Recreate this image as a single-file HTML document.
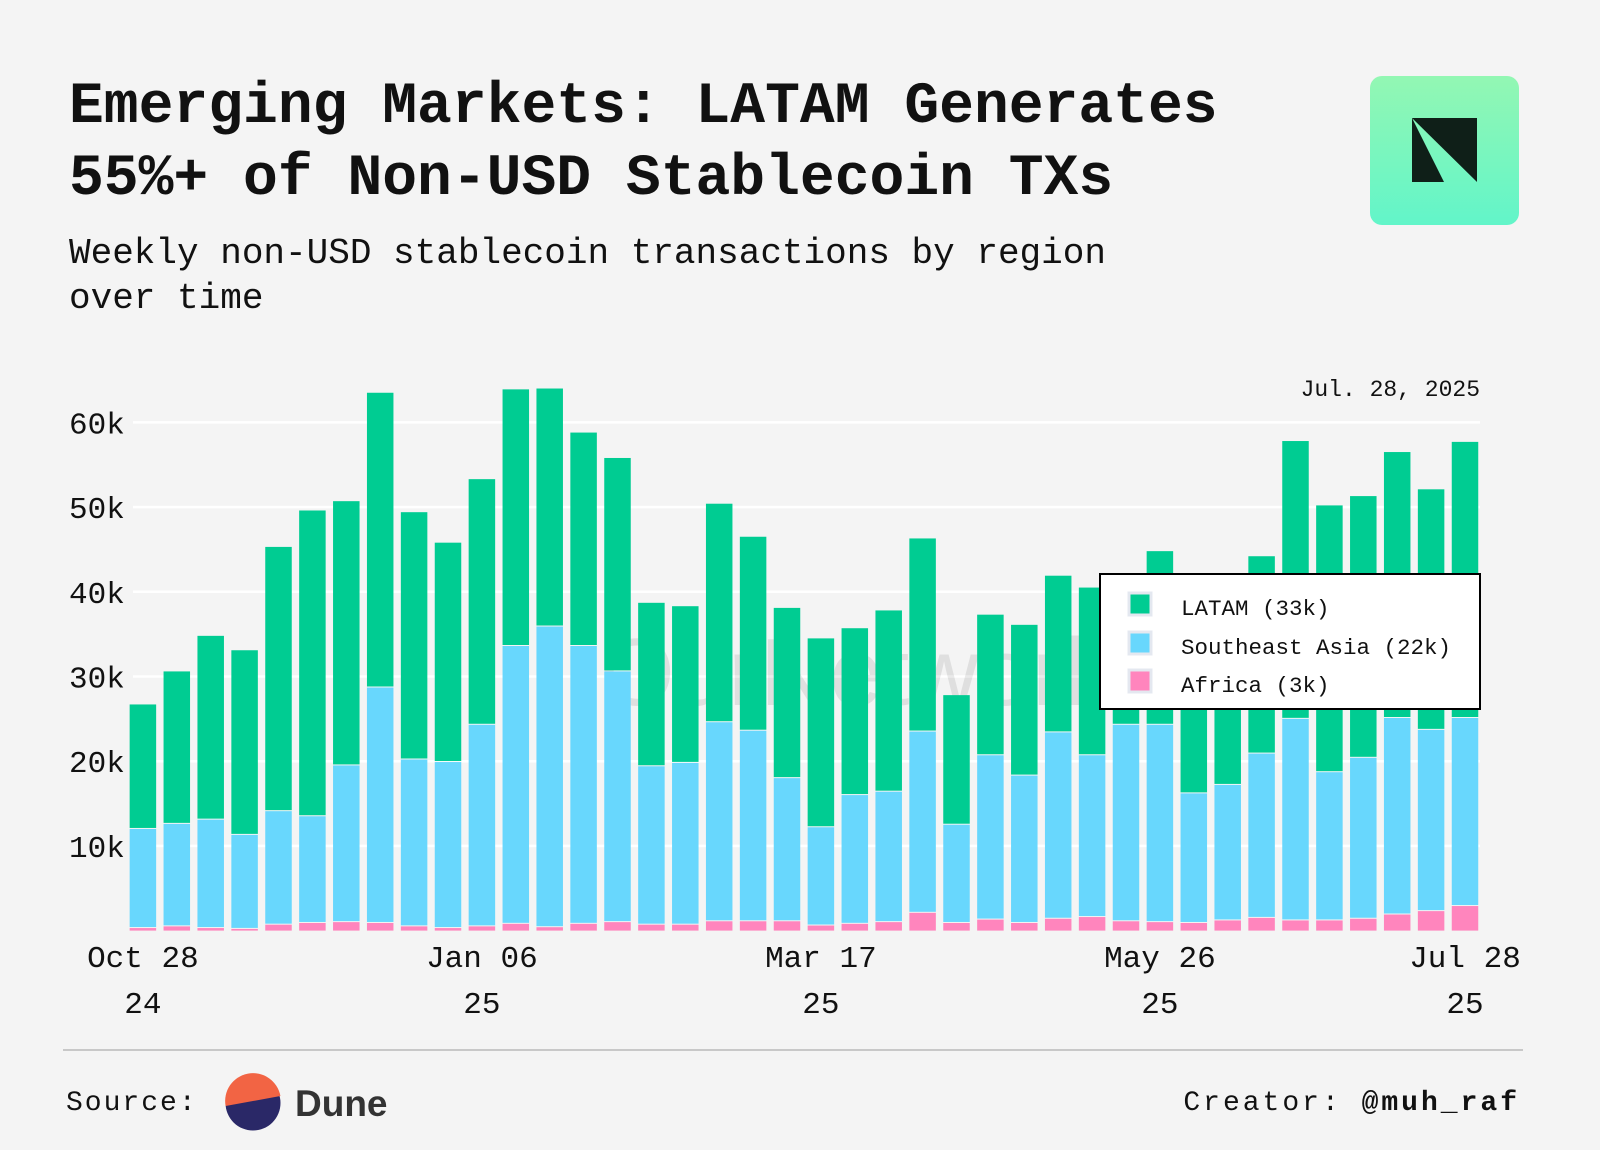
<!DOCTYPE html>
<html><head><meta charset="utf-8"><style>
html,body{margin:0;padding:0;background:#f4f4f4;}
svg{display:block;font-family:"Liberation Mono",monospace;}
</style></head><body>
<svg width="1600" height="1150" viewBox="0 0 1600 1150" xmlns="http://www.w3.org/2000/svg">
<rect width="1600" height="1150" fill="#f4f4f4"/>
<text x="69" y="122" font-size="58" font-weight="bold" fill="#111">Emerging Markets: LATAM Generates</text>
<text x="69" y="194" font-size="58" font-weight="bold" fill="#111">55%+ of Non-USD Stablecoin TXs</text>
<text x="69" y="263" font-size="36" fill="#111">Weekly non-USD stablecoin transactions by region</text>
<text x="69" y="308" font-size="36" fill="#111">over time</text>
<defs><linearGradient id="lg" x1="0" y1="0" x2="0" y2="1"><stop offset="0" stop-color="#93f7b3"/><stop offset="1" stop-color="#62f5c9"/></linearGradient></defs>
<g>
<rect x="1370" y="76" width="149" height="149" rx="12" fill="url(#lg)"/>
<polygon points="1412,118 1477,118 1477,182" fill="#0f1f18"/>
<polygon points="1412,118 1444,182 1412,182" fill="#0f1f18"/>
</g>
<text x="1480" y="396" font-size="23" text-anchor="end" fill="#111">Jul. 28, 2025</text>
<g id="grid"></g>
<text x="600" y="705" font-family="Liberation Sans,sans-serif" font-size="96" fill="#000" opacity="0.08">OurNetwork</text>
<g id="bars"></g>
<g id="axes"></g>
<g>
<rect x="1100" y="574" width="380" height="135" fill="#fff" stroke="#000" stroke-width="2"/>
<rect x="1129" y="593" width="22" height="22" fill="#00cc92" stroke="#e4e8f0" stroke-width="3"/>
<text x="1181" y="615" font-size="22.5" fill="#111">LATAM (33k)</text>
<rect x="1129" y="632" width="22" height="22" fill="#68d7fd" stroke="#e4e8f0" stroke-width="3"/>
<text x="1181" y="654" font-size="22.5" fill="#111">Southeast Asia (22k)</text>
<rect x="1129" y="670" width="22" height="22" fill="#ff85bd" stroke="#e4e8f0" stroke-width="3"/>
<text x="1181" y="692" font-size="22.5" fill="#111">Africa (3k)</text>
</g>
<line x1="63" y1="1050" x2="1523" y2="1050" stroke="#c8c8c8" stroke-width="2"/>
<text x="66" y="1110" font-size="28" letter-spacing="2" fill="#111">Source:</text>
<g>
<circle cx="253" cy="1103" r="27.5" fill="#2a2867"/>
<path d="M225.6,1106 A27.5,27.5 0 0 1 280.4,1096 L225.6,1106Z" fill="#f26444"/>
</g>
<text x="295" y="1116" font-family="Liberation Sans,sans-serif" font-weight="bold" font-size="37" fill="#333">Dune</text>
<text x="1520" y="1110" font-size="28" letter-spacing="3" text-anchor="end" fill="#111">Creator: <tspan font-weight="bold">@muh_raf</tspan></text>
</svg>
<script>
const africa=[0.3,0.5,0.3,0.2,0.7,0.9,1.0,0.9,0.5,0.3,0.5,0.8,0.4,0.8,1.0,0.7,0.7,1.1,1.1,1.1,0.6,0.8,1.0,2.1,0.9,1.3,0.9,1.4,1.6,1.1,1.0,0.9,1.2,1.5,1.2,1.2,1.4,1.9,2.3,2.9];
const sea=[11.7,12.1,12.8,11.1,13.4,12.6,18.5,27.8,19.7,19.6,23.8,32.8,35.5,32.8,29.6,18.7,19.1,23.5,22.5,16.9,11.6,15.2,15.4,21.4,11.6,19.4,17.4,22.0,19.1,23.2,23.3,15.3,16.0,19.4,23.8,17.5,19.0,23.2,21.4,22.2];
const totals=[26.7,30.6,34.8,33.1,45.3,49.6,50.7,63.5,49.4,45.8,53.3,63.9,64.0,58.8,55.8,38.7,38.3,50.4,46.5,38.1,34.5,35.7,37.8,46.3,27.8,37.3,36.1,41.9,40.5,40.0,44.8,38.0,40.0,44.2,57.8,50.2,51.3,56.5,52.1,57.7];
const yTicks=[10,20,30,40,50,60];
const xTickIdx=[0,10,20,30,39];
const xTickTop=["Oct 28","Jan 06","Mar 17","May 26","Jul 28"];
const xTickBot=["24","25","25","25","25"];
const NS="http://www.w3.org/2000/svg";
const y0=930.6,kPx=8.47,x0=142.9,step=33.9,bw=26.5;
const Y=v=>y0-v*kPx, X=i=>x0+i*step;
function mk(tag,attrs,parent){const e=document.createElementNS(NS,tag);for(const k in attrs)e.setAttribute(k,attrs[k]);parent.appendChild(e);return e;}
const grid=document.getElementById('grid'),bars=document.getElementById('bars'),axes=document.getElementById('axes');
yTicks.forEach(t=>{
 const l=mk('line',{x1:133,x2:1480,y1:Y(t),y2:Y(t),stroke:'#fff','stroke-width':2.5},grid);
 
 
 const tx=mk('text',{x:69,y:Y(t)+11,'font-size':31,fill:'#111'},axes);
 tx.textContent=t+'k';
 
 
});
totals.forEach((tot,i)=>{
 const a=africa[i],s=sea[i],lat=tot-a-s,x=X(i)-bw/2;
 const g=mk('g',{},bars);
 
 
 const ra=mk('rect',{x:x,y:Y(a),width:bw,height:a*kPx,fill:'#ff85bd'},g);
 
 
 const rs=mk('rect',{x:x,y:Y(a+s),width:bw,height:s*kPx-1,fill:'#68d7fd'},g);
 
 
 const rl=mk('rect',{x:x,y:Y(tot),width:bw,height:lat*kPx-1,fill:'#00cc92'},g);
 
 
});
xTickIdx.forEach((idx,j)=>{
 const t1=mk('text',{x:X(idx),y:967,'font-size':31,fill:'#111','text-anchor':'middle'},axes);
 t1.textContent=xTickTop[j];
 
 
 const t2=mk('text',{x:X(idx),y:1013,'font-size':31,fill:'#111','text-anchor':'middle'},axes);
 t2.textContent=xTickBot[j];
 
 
});
</script>
</body></html>
